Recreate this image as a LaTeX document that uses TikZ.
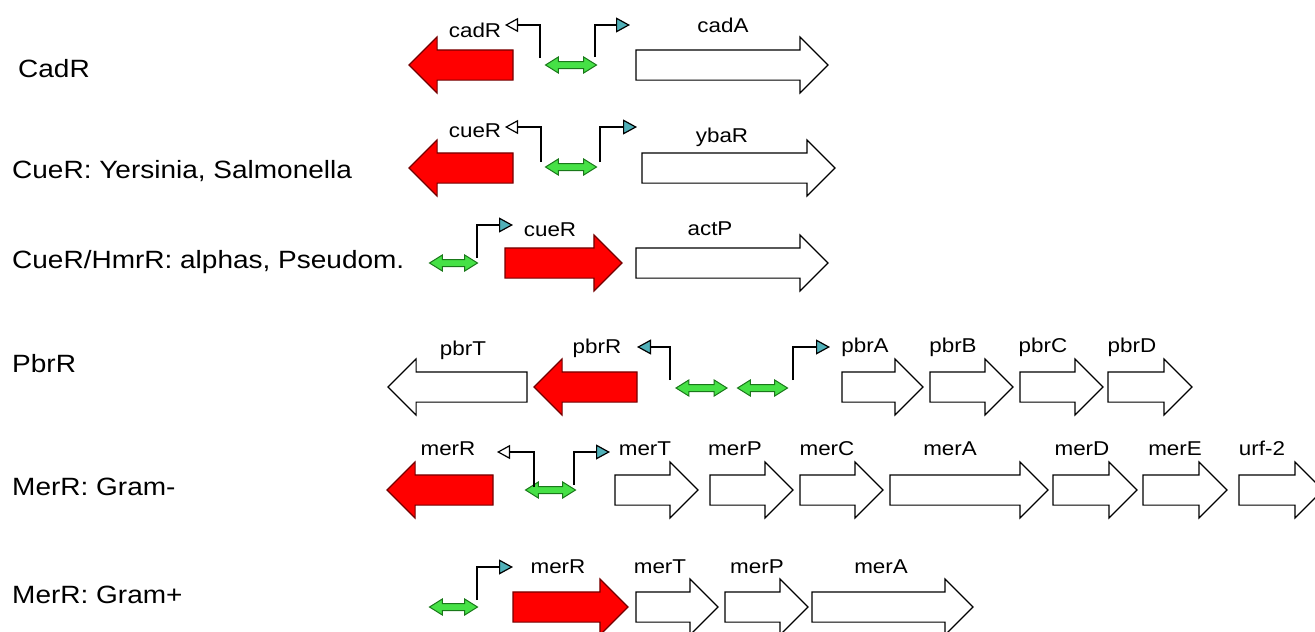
\documentclass[tikz,border=0pt]{standalone}
\usepackage{fontspec}
\setmainfont{Liberation Sans}[FakeStretch=1.12]
\usepackage{tikz}
\usetikzlibrary{shapes,arrows}
\usetikzlibrary{arrows.meta}

\definecolor{promcol}{RGB}{80,176,184}
\definecolor{opfill}{RGB}{70,225,70}
\definecolor{opline}{RGB}{25,120,25}

\tikzset{
  gene/.style={shape=single arrow, draw=black, fill=white, line width=1.1pt, inner xsep=0pt, inner ysep=14.5pt,
    outer sep=0pt, minimum width=55pt, single arrow head extend=13pt, anchor=tail},
  rgene/.style={gene, fill=red, draw=red!45!black},
  back/.style={shape border rotate=180},
  op/.style={shape=double arrow, draw=opline, fill=opfill, line width=1pt, inner xsep=0pt, inner ysep=3pt,
    minimum width=15pt, double arrow head extend=4.5pt, double arrow tip angle=64},
  prom/.style={line width=1.2pt, -{Triangle[length=14pt,width=15pt,fill=promcol]}},
  promo/.style={line width=1.2pt, -{Triangle[open,length=13pt,width=14pt]}},
  rowlbl/.style={anchor=base west, inner sep=0pt, font=\fontsize{25}{30}\selectfont},
  glbl/.style={anchor=base, inner sep=0pt, font=\fontsize{20}{24}\selectfont}
}

\begin{document}
\begin{tikzpicture}[x=1pt,y=-1pt]
\useasboundingbox (0,0) rectangle (1315,632);
\clip (0,0) rectangle (1315,632);

% row labels
\node (r1) at (18,77) [rowlbl] {CadR};
\node (r2) at (12,178) [rowlbl] {CueR: Yersinia, Salmonella};
\node (r3) at (12,268) [rowlbl] {CueR/HmrR: alphas, Pseudom.};
\node (r4) at (12,372) [rowlbl] {PbrR};
\node (r5) at (12,495) [rowlbl] {MerR: Gram-};
\node (r6) at (12,603) [rowlbl] {MerR: Gram+};

% CadR
\node (cadR1) at (513,65) [rgene, back, minimum height=104] {};
\node (cadA1) at (636,65) [gene, minimum height=192] {};
\node (op1) at (571,65) [op, minimum height=51] {};
\node (cadR1t) at (475,37) [glbl] {cadR};
\node (cadA1t) at (723,32) [glbl] {cadA};
\coordinate (s1l) at (540,58);
\coordinate (t1l) at (505,25);
\coordinate (s1r) at (595,57);
\coordinate (t1r) at (630,25);
\draw [promo] (s1l) |- (t1l);
\draw [prom] (s1r) |- (t1r);

% CueR
\node (cueR2) at (513,168) [rgene, back, minimum height=104] {};
\node (ybaR2) at (642,168) [gene, minimum height=193] {};
\node (op2) at (571,167) [op, minimum height=51] {};
\node (cueR2t) at (475,137) [glbl] {cueR};
\node (ybaR2t) at (722,142) [glbl] {ybaR};
\coordinate (s2l) at (541,162);
\coordinate (t2l) at (505,127);
\coordinate (s2r) at (600,162);
\coordinate (t2r) at (637,127);
\draw [promo] (s2l) |- (t2l);
\draw [prom] (s2r) |- (t2r);

% CueR/HmrR
\node (cueR3) at (505,263) [rgene, minimum height=117] {};
\node (actP3) at (636,263) [gene, minimum height=192] {};
\node (op3) at (453.5,263) [op, minimum height=48] {};
\node (cueR3t) at (550,236) [glbl] {cueR};
\node (actP3t) at (710,235) [glbl] {actP};
\coordinate (s3) at (477,258);
\coordinate (t3) at (513,225);
\draw [prom] (s3) |- (t3);

% PbrR
\node (pbrT4) at (527,387) [gene, back, minimum height=139] {};
\node (pbrR4) at (637,387) [rgene, back, minimum height=103] {};
\node (pbrA4) at (842,387) [gene, minimum height=81] {};
\node (pbrB4) at (930,387) [gene, minimum height=83] {};
\node (pbrC4) at (1020,387) [gene, minimum height=83] {};
\node (pbrD4) at (1108,387) [gene, minimum height=84] {};
\node (op4a) at (701.5,388) [op, minimum height=51] {};
\node (op4b) at (762.5,388) [op, minimum height=50] {};
\node (pbrT4t) at (463,355) [glbl] {pbrT};
\node (pbrR4t) at (597,353) [glbl] {pbrR};
\node (pbrA4t) at (865,352) [glbl] {pbrA};
\node (pbrB4t) at (953,352) [glbl] {pbrB};
\node (pbrC4t) at (1043,352) [glbl] {pbrC};
\node (pbrD4t) at (1132,352) [glbl] {pbrD};
\coordinate (s4l) at (670,380);
\coordinate (t4l) at (637,347);
\coordinate (s4r) at (793,380);
\coordinate (t4r) at (830,347);
\draw [prom] (s4l) |- (t4l);
\draw [prom] (s4r) |- (t4r);

% MerR: Gram-
\node (merR5) at (493,490) [rgene, back, minimum height=106] {};
\node (merT5) at (615,490) [gene, minimum height=83] {};
\node (merP5) at (710,490) [gene, minimum height=83] {};
\node (merC5) at (800,490) [gene, minimum height=83] {};
\node (merA5) at (890,490) [gene, minimum height=158] {};
\node (merD5) at (1053,490) [gene, minimum height=84] {};
\node (merE5) at (1143,490) [gene, minimum height=84] {};
\node (urf5) at (1239,490) [gene, minimum height=84] {};
\node (op5) at (550.5,490) [op, minimum height=50] {};
\node (merR5t) at (448,455) [glbl] {merR};
\node (merT5t) at (645,455) [glbl] {merT};
\node (merP5t) at (735,455) [glbl] {merP};
\node (merC5t) at (827,455) [glbl] {merC};
\node (merA5t) at (950,455) [glbl] {merA};
\node (merD5t) at (1082,455) [glbl] {merD};
\node (merE5t) at (1175,455) [glbl] {merE};
\node (urf5t) at (1262,455) [glbl] {urf-2};
\coordinate (s5l) at (534,487);
\coordinate (t5l) at (497,452);
\coordinate (s5r) at (574,485);
\coordinate (t5r) at (610,452);
\draw [promo] (s5l) |- (t5l);
\draw [prom] (s5r) |- (t5r);

% MerR: Gram+
\node (merR6) at (513,607) [rgene, minimum height=115] {};
\node (merT6) at (636,607) [gene, minimum height=82] {};
\node (merP6) at (725,607) [gene, minimum height=83] {};
\node (merA6) at (812,607) [gene, minimum height=161] {};
\node (op6) at (453.5,607) [op, minimum height=48] {};
\node (merR6t) at (558,573) [glbl] {merR};
\node (merT6t) at (660,573) [glbl] {merT};
\node (merP6t) at (757,573) [glbl] {merP};
\node (merA6t) at (881,573) [glbl] {merA};
\coordinate (s6) at (477,600);
\coordinate (t6) at (513,567);
\draw [prom] (s6) |- (t6);
\end{tikzpicture}
\end{document}
